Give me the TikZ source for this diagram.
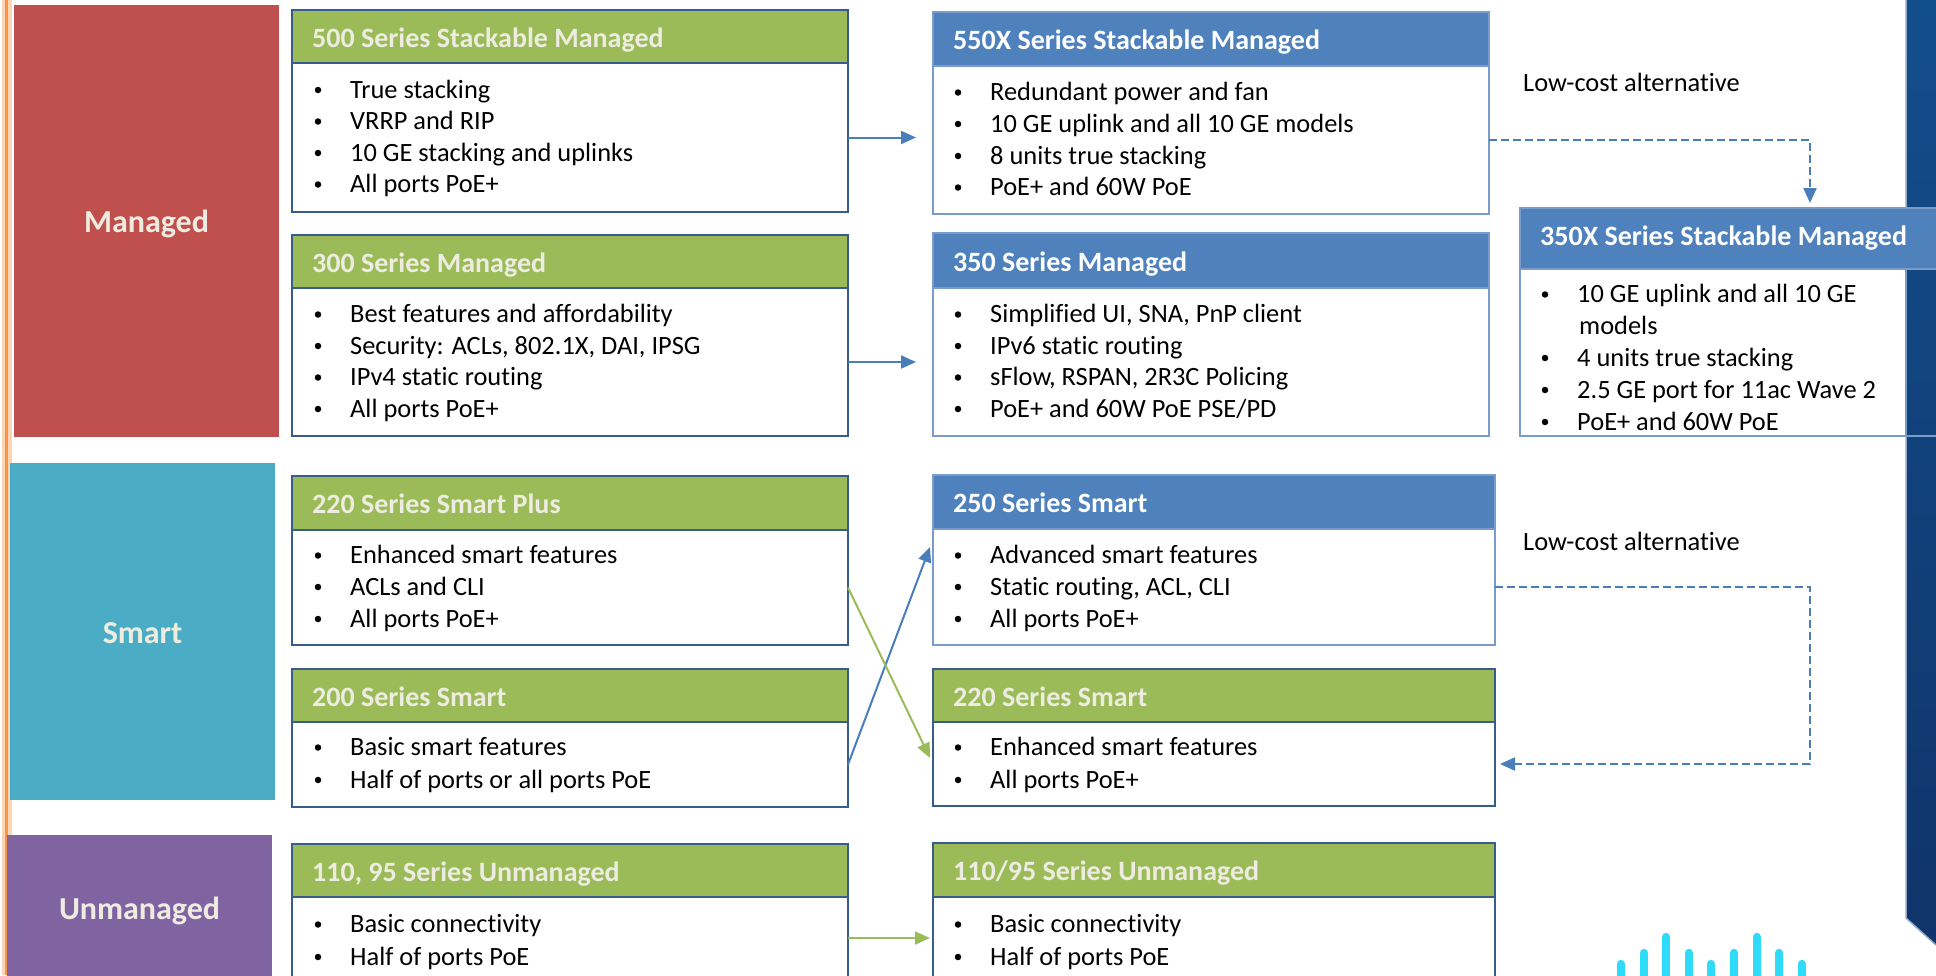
\documentclass[tikz,border=0pt]{standalone}
\usepackage{fontspec}
\setmainfont{Carlito}[Ligatures=NoCommon]
\usetikzlibrary{arrows.meta,calc}
\definecolor{grn}{HTML}{9BBB59}
\definecolor{blu}{HTML}{4F81BD}
\definecolor{bdark}{HTML}{385D8A}
\definecolor{blight}{HTML}{7A9CCB}
\definecolor{tan}{HTML}{EEECE1}
\definecolor{mred}{HTML}{C0504D}
\definecolor{scyan}{HTML}{4BACC6}
\definecolor{upurp}{HTML}{8064A2}
\definecolor{arrb}{HTML}{4A7EBB}
\definecolor{orng}{HTML}{F79646}
\definecolor{peach}{HTML}{FBD5B5}
\definecolor{navy}{HTML}{10346A}
\definecolor{navytop}{HTML}{134E8C}
\definecolor{bandedge}{HTML}{8FA8C8}
\definecolor{ciscoc}{HTML}{2EDCFA}
\tikzset{
  bodybox/.style={anchor=north west, fill=white, line width=1.3pt, inner sep=0pt, outer sep=0pt},
  hdrbox/.style={anchor=north west, line width=1.3pt, inner sep=0pt, outer sep=0pt},
  hdrg/.style={fill=grn, draw=bdark},
  hdrb/.style={fill=blu, draw=blight},
  ttl/.style={anchor=base west, inner sep=0pt, font=\fontsize{28}{33}\selectfont\bfseries},
  ttlg/.style={text=tan},
  ttlb/.style={text=white},
  bul/.style={circle, fill=black, inner sep=0pt, minimum size=6.5pt},
  btx/.style={anchor=base west, inner sep=0pt, font=\fontsize{26.4}{31.7}\selectfont},
  lbl/.style={anchor=north west, inner sep=0pt, outer sep=0pt, text=tan, text height=23pt, text depth=0pt, font=\fontsize{32}{38}\selectfont\bfseries},
  arr/.style={line width=2pt, -{Triangle[length=15pt,width=13pt]}},
  dsh/.style={arr, line width=2.2pt, color=arrb, dash pattern=on 8pt off 4pt},
  bar/.style={ciscoc, line width=8.5pt, line cap=round}
}
\newcommand\prodbox[9]{%
  \node[bodybox, draw=#8, minimum width=#4pt, minimum height=#6pt] (b#1) at (#2,#3+#5) {};
  \node[hdrbox, hdr#7, minimum width=#4pt, minimum height=#5pt] (h#1) at (#2,#3) {};
  \node[ttl, ttl#7] (t#1) at (#2+20,#3+#5/2+10.5) {#9};
}
\newcommand\bl[4]{%
  \node[bul] (#1b) at (#2,#3-8) {};
  \node[btx] (#1) at (#2+32,#3) {#4};
}
\begin{document}
\begin{tikzpicture}[x=1pt,y=-1pt]
\useasboundingbox (0,0) rectangle (1936,975);
\clip (0,0) rectangle (1936,975);
\fill[white] (0,0) rectangle (1936,975);
% left stripe
\fill[peach] (2,0) rectangle (12,975);
\fill[orng] (5,0) rectangle (8,975);
% category labels
\node[lbl, fill=mred, minimum width=265pt, minimum height=432pt] (managed) at (14,5) {Managed};
\node[lbl, fill=scyan, minimum width=265pt, minimum height=337pt] (smart) at (10,463) {Smart};
\node[lbl, fill=upurp, minimum width=265pt, minimum height=146pt] (unmanaged) at (7,835) {Unmanaged};
% right band
\shade[top color=navytop, bottom color=navy] (1906,0) -- (1936,0) -- (1936,945) -- (1906,918) -- cycle;
\draw[bandedge, line width=1.5pt] (1906,0) -- (1906,918) -- (1936,945);
% left column
\prodbox{500}{292}{10}{556}{53}{149}{g}{bdark}{500 Series Stackable Managed}
\bl{l500a}{318}{98}{True stacking}
\bl{l500b}{318}{129.5}{VRRP and RIP}
\bl{l500c}{318}{161}{10 GE stacking and uplinks}
\bl{l500d}{318}{192.5}{All ports PoE+}
\prodbox{300}{292}{235}{556}{53}{148}{g}{bdark}{300 Series Managed}
\bl{l300a}{318}{322.5}{Best features and affordability}
\bl{l300b}{318}{354}{Security: ACLs, 802.1X, DAI, IPSG}
\bl{l300c}{318}{385.5}{IPv4 static routing}
\bl{l300d}{318}{417}{All ports PoE+}
\prodbox{220p}{292}{476}{556}{54}{115}{g}{bdark}{220 Series Smart Plus}
\bl{l220pa}{318}{563.5}{Enhanced smart features}
\bl{l220pb}{318}{595}{ACLs and CLI}
\bl{l220pc}{318}{627}{All ports PoE+}
\prodbox{200}{292}{669}{556}{53}{85}{g}{bdark}{200 Series Smart}
\bl{l200a}{318}{755.5}{Basic smart features}
\bl{l200b}{318}{788}{Half of ports or all ports PoE}
\prodbox{u1}{292}{844}{556}{53}{150}{g}{bdark}{110, 95 Series Unmanaged}
\bl{lu1a}{318}{932.5}{Basic connectivity}
\bl{lu1b}{318}{965}{Half of ports PoE}
% right column
\prodbox{550}{933}{12}{556}{54}{148}{b}{blight}{550X Series Stackable Managed}
\bl{l550a}{958}{100.5}{Redundant power and fan}
\bl{l550b}{958}{132}{10 GE uplink and all 10 GE models}
\bl{l550c}{958}{164}{8 units true stacking}
\bl{l550d}{958}{195.5}{PoE+ and 60W PoE}
\prodbox{350}{933}{233}{556}{55}{148}{b}{blight}{350 Series Managed}
\bl{l350a}{958}{322.5}{Simplified UI, SNA, PnP client}
\bl{l350b}{958}{354}{IPv6 static routing}
\bl{l350c}{958}{385.5}{sFlow, RSPAN, 2R3C Policing}
\bl{l350d}{958}{417}{PoE+ and 60W PoE PSE/PD}
\prodbox{250}{933}{475}{562}{54}{116}{b}{blight}{250 Series Smart}
\bl{l250a}{958}{563.5}{Advanced smart features}
\bl{l250b}{958}{595}{Static routing, ACL, CLI}
\bl{l250c}{958}{627}{All ports PoE+}
\prodbox{220s}{933}{669}{562}{53}{84}{g}{bdark}{220 Series Smart}
\bl{l220sa}{958}{755.5}{Enhanced smart features}
\bl{l220sb}{958}{788}{All ports PoE+}
\prodbox{u2}{933}{843}{562}{54}{150}{g}{bdark}{110/95 Series Unmanaged}
\bl{lu2a}{958}{932.5}{Basic connectivity}
\bl{lu2b}{958}{965}{Half of ports PoE}
% 350X box
\node[hdrbox, fill=blu, draw=blight, minimum width=430pt, minimum height=61pt] (h350x) at (1520,208) {};
\node[bodybox, draw=blight, minimum width=386pt, minimum height=167pt] (b350x) at (1520,269) {};
\draw[blight, line width=1.3pt] (b350x.south east) -- ++(40,0);
\node[ttl, ttlb] (t350x) at (1540,245) {350X Series Stackable Managed};
\bl{l350xa}{1545}{302.5}{10 GE uplink and all 10 GE}
\node[btx] (l350xa2) at (1579,334) {models};
\bl{l350xb}{1545}{366}{4 units true stacking}
\bl{l350xc}{1545}{398}{2.5 GE port for 11ac Wave 2}
\bl{l350xd}{1545}{430}{PoE+ and 60W PoE}
% low-cost labels
\node[btx] (lc1) at (1523,91.5) {Low-cost alternative};
\node[btx] (lc2) at (1523,550) {Low-cost alternative};
% connectors
\draw[arr, arrb] (b500.east) -- ($(b550.west |- b500.east)+(-17,0)$);
\draw[arr, arrb] (b300.east) -- ($(b350.west |- b300.east)+(-17,0)$);
\draw[arr, arrb] (b200.east) -- ($(b250.north west)+(-3,18)$);
\draw[arr, grn] (b220p.east) -- ($(b220s.north west)+(-3,36)$);
\draw[arr, grn] ($(bu1.north east)+(0,41)$) -- ($(bu2.north west)+(-3,41)$);
\coordinate (d1) at (1810,140);
\coordinate (d2) at (1810,587);
\coordinate (d3) at (1810,764);
\draw[dsh] (b550.east) -- (d1) -- ($(h350x.north -| d1)+(0,-5)$);
\draw[dsh] (b250.east) -- (d2) -- (d3) -- ($(b220s.east)+(5,0)$);
% logo bars
\foreach \bx/\by in {1621/964,1644/953,1666/937,1689/953,1711/964,1734/953,1757/937,1779/953,1802/964}
  \draw[bar] (\bx,\by) -- (\bx,990);
\end{tikzpicture}
\end{document}
